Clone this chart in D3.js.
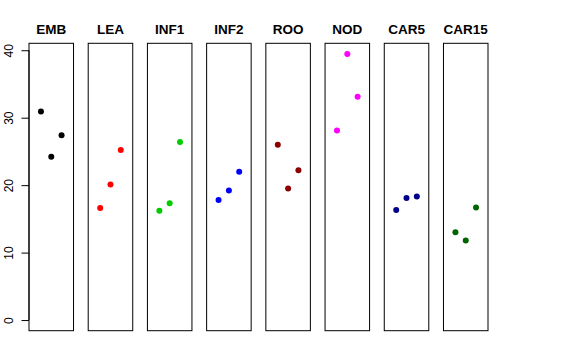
<!DOCTYPE html>
<html>
<head>
<meta charset="utf-8">
<script src="https://cdn.jsdelivr.net/npm/d3@7"></script>
<style>
  html, body { margin: 0; padding: 0; background: #fff; }
  svg { display: block; }
</style>
</head>
<body>
<svg id="chart" width="576" height="360"></svg>
<script>
// ---- data ----
const categories = ["EMB", "LEA", "INF1", "INF2", "ROO", "NOD", "CAR5", "CAR15"];
const colors = ["#000000", "#FF0000", "#00CD00", "#0000FF", "#8B0000", "#FF00FF", "#00008B", "#006400"];
const valuesEMB   = [30.9, 24.2, 27.4];
const valuesLEA   = [16.6, 20.1, 25.2];
const valuesINF1  = [16.2, 17.3, 26.4];
const valuesINF2  = [17.8, 19.2, 22.0];
const valuesROO   = [26.0, 19.5, 22.2];
const valuesNOD   = [28.1, 39.45, 33.1];
const valuesCAR5  = [16.3, 18.1, 18.3];
const valuesCAR15 = [13.0, 11.8, 16.7];
const yTicks = [0, 10, 20, 30, 40];

const series = [valuesEMB, valuesLEA, valuesINF1, valuesINF2, valuesROO, valuesNOD, valuesCAR5, valuesCAR15];

// ---- layout ----
const svg = d3.select("#chart");
const plotTop = 43.3, plotBottom = 330.7;
const left = 29, right = 488;

const band = d3.scaleBand().domain(categories).range([left, right]).paddingInner(0.248).paddingOuter(0);

const ymax = d3.max(series.flat());
const ypad = ymax * 0.04;
const y = d3.scaleLinear().domain([0 - ypad, ymax + ypad]).range([plotBottom, plotTop]);

const font = "'Liberation Sans', Arial, Helvetica, sans-serif";

categories.forEach((cat, i) => {
  const x0 = band(cat);
  const w = band.bandwidth();
  const x = d3.scaleLinear().domain([-0.16, 4.16]).range([x0, x0 + w]);
  const g = svg.append("g");

  g.append("rect")
    .attr("x", x0).attr("y", plotTop)
    .attr("width", w).attr("height", plotBottom - plotTop)
    .attr("fill", "none").attr("stroke", "#000").attr("stroke-width", 1);

  g.selectAll("circle").data(series[i]).join("circle")
    .attr("cx", (d, j) => x(j + 1))
    .attr("cy", d => y(d))
    .attr("r", 3)
    .attr("fill", colors[i]);

  g.append("text")
    .attr("x", x0 + w / 2).attr("y", 34)
    .attr("text-anchor", "middle")
    .attr("font-family", font).attr("font-weight", "bold").attr("font-size", 13.5)
    .text(cat);
});

// ---- y axis ----
const axis = d3.axisLeft(y).tickValues(yTicks).tickSize(7.5).tickPadding(0).tickFormat(d3.format("d"));
const ag = svg.append("g").attr("transform", `translate(${left},0)`).call(axis);
ag.select(".domain").attr("d", `M0,${y(0)}V${y(40)}`).attr("stroke", "#000");
ag.selectAll(".tick line").attr("stroke", "#000");
ag.selectAll(".tick text")
  .attr("font-family", font).attr("font-size", 12).attr("fill", "#000")
  .attr("text-anchor", "middle")
  .attr("transform", "rotate(-90)")
  .attr("x", 0).attr("dy", 0)
  .attr("y", -16.3);
ag.selectAll(".tick text").each(function() {
  // place rotated labels: after rotate(-90), x is along original -y, y is along original x
  const t = d3.select(this);
  t.attr("x", 0).attr("y", -16.3);
});
</script>
</body>
</html>
